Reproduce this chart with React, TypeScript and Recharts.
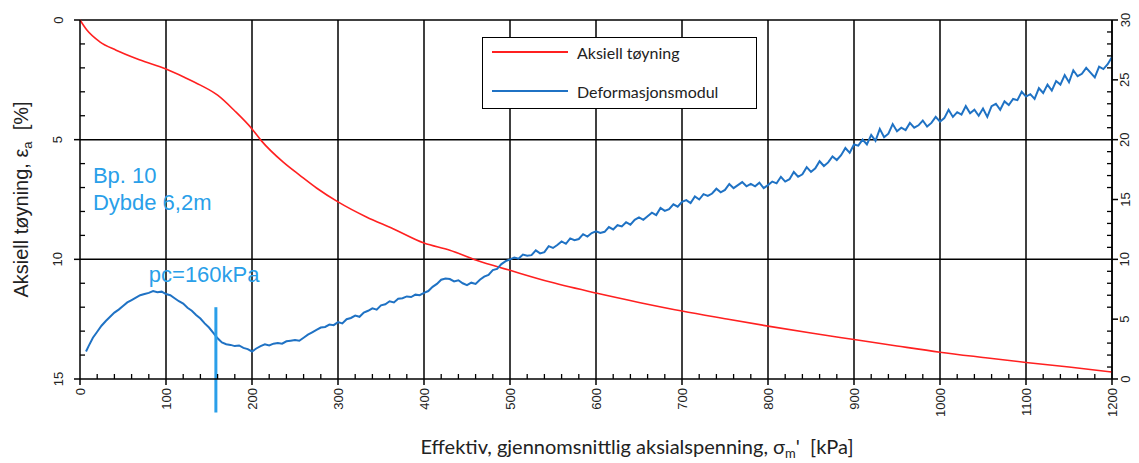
import React from 'react';
import { ComposedChart, Line, XAxis, YAxis, ReferenceLine, ReferenceDot, Legend } from 'recharts';

// axial strain (%) vs effective mean stress (kPa)
const strainStress = [0, 8, 23, 42, 70, 100, 120, 140, 160, 180, 200, 211, 236, 256, 275, 300, 333, 364, 400, 430, 461, 500, 547, 600, 650, 700, 750, 800, 850, 900, 950, 1000, 1050, 1100, 1150, 1200];
const strainValues = [0, 0.42, 0.91, 1.26, 1.67, 2.05, 2.37, 2.72, 3.14, 3.8, 4.55, 5.05, 5.93, 6.5, 7.02, 7.6, 8.23, 8.72, 9.32, 9.62, 10.04, 10.46, 10.95, 11.41, 11.8, 12.16, 12.48, 12.79, 13.08, 13.35, 13.62, 13.88, 14.1, 14.31, 14.5, 14.71];

// deformation modulus (MPa) vs stress (kPa)
const modulusPoints: [number, number][] = [
  [7, 2.3], [10, 2.75], [15, 3.45], [20, 3.95], [25, 4.45], [30, 4.85], [35, 5.2], [40, 5.55], [45, 5.8], [50, 6.1],
  [55, 6.4], [60, 6.6], [65, 6.8], [70, 7.0], [75, 7.1], [80, 7.2], [85, 7.35], [90, 7.25], [95, 7.3], [100, 7.1],
  [105, 7.0], [110, 6.75], [115, 6.5], [120, 6.3], [125, 5.95], [130, 5.7], [135, 5.35], [140, 5.05], [145, 4.65], [150, 4.3],
  [155, 3.85], [160, 3.4], [165, 3.05], [170, 2.9], [175, 2.85], [180, 2.75], [185, 2.8], [190, 2.6], [195, 2.5], [200, 2.3],
  [205, 2.55], [210, 2.75], [215, 2.9], [220, 2.8], [225, 2.95], [230, 3.0], [235, 2.95], [240, 3.15], [245, 3.2], [250, 3.25],
  [255, 3.2], [260, 3.45], [265, 3.7], [270, 3.9], [275, 4.1], [280, 4.3], [285, 4.35], [290, 4.55], [295, 4.5], [300, 4.75],
  [305, 4.65], [310, 5.0], [315, 5.1], [320, 5.3], [325, 5.2], [330, 5.55], [335, 5.7], [340, 5.9], [345, 5.8], [350, 6.15],
  [355, 6.25], [360, 6.5], [365, 6.4], [370, 6.7], [375, 6.75], [380, 6.9], [385, 6.85], [390, 7.05], [395, 7.0], [400, 7.2],
  [405, 7.35], [410, 7.7], [415, 7.95], [420, 8.3], [425, 8.4], [430, 8.35], [435, 8.15], [440, 8.25], [445, 8.0], [450, 7.85],
  [455, 8.05], [460, 7.95], [465, 8.3], [470, 8.55], [475, 8.7], [480, 9.1], [485, 9.2], [490, 9.6], [495, 9.85], [500, 10.0],
  [505, 10.15], [510, 10.05], [515, 10.4], [520, 10.3], [525, 10.35], [530, 10.75], [535, 10.5], [540, 10.6], [545, 11.1], [550, 10.95],
  [555, 11.2], [560, 11.5], [565, 11.3], [570, 11.75], [575, 11.6], [580, 11.7], [585, 12.1], [590, 11.9], [595, 12.2], [600, 12.35],
  [605, 12.2], [610, 12.3], [615, 12.7], [620, 12.5], [625, 12.85], [630, 12.75], [635, 13.1], [640, 12.9], [645, 13.3], [650, 13.5],
  [655, 13.3], [660, 13.6], [665, 13.9], [670, 13.7], [675, 14.3], [680, 14.05], [685, 14.2], [690, 14.6], [695, 14.4], [700, 14.8],
  [705, 14.95], [710, 14.7], [715, 15.25], [720, 15.0], [725, 15.45], [730, 15.3], [735, 15.5], [740, 15.9], [745, 15.6], [750, 15.8],
  [755, 16.3], [760, 15.95], [765, 16.2], [770, 16.45], [775, 16.1], [780, 16.3], [785, 16.1], [790, 16.4], [795, 15.95], [800, 16.2],
  [805, 16.5], [810, 16.35], [815, 16.9], [820, 16.5], [825, 16.7], [830, 17.3], [835, 16.9], [840, 17.1], [845, 17.7], [850, 17.3],
  [855, 17.6], [860, 18.2], [865, 17.8], [870, 18.1], [875, 18.6], [880, 18.3], [885, 18.7], [890, 19.3], [895, 18.9], [900, 19.6],
  [905, 19.5], [910, 20.0], [915, 19.6], [920, 20.4], [925, 19.9], [930, 20.9], [935, 20.2], [940, 20.5], [945, 21.3], [950, 20.7],
  [955, 21.0], [960, 20.8], [965, 21.4], [970, 21.0], [975, 21.2], [980, 21.6], [985, 21.1], [990, 21.4], [995, 21.9], [1000, 21.5],
  [1005, 21.8], [1010, 22.5], [1015, 21.9], [1020, 22.3], [1025, 22.1], [1030, 22.8], [1035, 22.2], [1040, 22.5], [1045, 22.0], [1050, 22.6],
  [1055, 21.9], [1060, 22.8], [1065, 23.0], [1070, 22.5], [1075, 23.2], [1080, 22.9], [1085, 23.4], [1090, 23.3], [1095, 24.0], [1100, 23.6],
  [1105, 23.8], [1110, 23.4], [1115, 24.3], [1120, 23.9], [1125, 24.6], [1130, 24.1], [1135, 24.9], [1140, 24.6], [1145, 25.4], [1150, 24.8],
  [1155, 25.8], [1160, 25.3], [1165, 25.5], [1170, 26.0], [1175, 25.6], [1180, 25.2], [1185, 26.1], [1190, 25.9], [1195, 26.3], [1200, 26.9],
];

const xMajorTicks = [0, 100, 200, 300, 400, 500, 600, 700, 800, 900, 1000, 1100, 1200];
const leftMajorTicks = [0, 5, 10, 15];
const rightMajorTicks = [0, 5, 10, 15, 20, 25, 30];
const legendItems = [
  { label: 'Aksiell tøyning', color: '#ff2020' },
  { label: 'Deformasjonsmodul', color: '#1f72c4' },
];
const preconsolidation = 158; // kPa, marked line
const sampleInfo = ['Bp. 10', 'Dybde 6,2m'];
const pcLabel = 'pc=160kPa';

const strainData = strainStress.map((s, i) => ({ s, strain: strainValues[i] }));
const modulusData = modulusPoints.map(([s, m]) => ({ s, modulus: m }));

const withMinor = (majors: number[], step: number) => {
  const out: number[] = [];
  for (let v = majors[0]; v <= majors[majors.length - 1] + 1e-9; v += step) out.push(Math.round(v * 100) / 100);
  return out;
};
const xTicks = withMinor(xMajorTicks, 20);
const leftTicks = withMinor(leftMajorTicks, 1);
const rightTicks = withMinor(rightMajorTicks, 1);

const AXIS = '#000';
const ANNOT = '#2a9fe9';
const tickText = { fontFamily: '"Liberation Sans", Arial, sans-serif', fontSize: 13, fill: '#222' };

const BottomTick = ({ x, y, payload }: any) => {
  const v = payload.value as number;
  if (v % 100 !== 0) return <line x1={x} x2={x} y1={y} y2={y - 5} stroke={AXIS} strokeWidth={1.3} />;
  return (
    <g>
      <line x1={x} x2={x} y1={y} y2={y + 6} stroke={AXIS} strokeWidth={1.5} />
      <text x={x} y={y + 9} transform={`rotate(-90 ${x} ${y + 9})`} textAnchor="end" dominantBaseline="central" {...tickText}>
        {v}
      </text>
    </g>
  );
};

const LeftTick = ({ x, y, payload }: any) => {
  const v = payload.value as number;
  if (v % 5 !== 0) return <line x1={x} x2={x + 5} y1={y} y2={y} stroke={AXIS} strokeWidth={1.3} />;
  return (
    <g>
      <line x1={x - 6} x2={x} y1={y} y2={y} stroke={AXIS} strokeWidth={1.5} />
      <text x={x - 22} y={y} transform={`rotate(-90 ${x - 22} ${y})`} textAnchor="middle" dominantBaseline="central" {...tickText}>
        {v}
      </text>
    </g>
  );
};

const RightTick = ({ x, y, payload }: any) => {
  const v = payload.value as number;
  if (v % 5 !== 0) return <line x1={x - 5} x2={x} y1={y} y2={y} stroke={AXIS} strokeWidth={1.3} />;
  return (
    <g>
      <line x1={x} x2={x + 6} y1={y} y2={y} stroke={AXIS} strokeWidth={1.5} />
      <text x={x + 13} y={y} transform={`rotate(-90 ${x + 13} ${y})`} textAnchor="middle" dominantBaseline="central" {...tickText}>
        {v}
      </text>
    </g>
  );
};

const LegendBox = () => (
  <div
    style={{
      width: 275,
      height: 72,
      boxSizing: 'border-box',
      border: '1.5px solid #000',
      background: '#fff',
      position: 'relative',
      fontFamily: 'Lato, "Open Sans", sans-serif',
      fontSize: 16,
      color: '#222',
    }}
  >
    {legendItems.map((it, i) => (
      <div key={it.label} style={{ position: 'absolute', left: 9, top: 4 + i * 39, height: 20, display: 'flex', alignItems: 'center' }}>
        <span style={{ display: 'inline-block', width: 76, height: 2.5, background: it.color }} />
        <span style={{ marginLeft: 9, whiteSpace: 'nowrap' }}>{it.label}</span>
      </div>
    ))}
  </div>
);

const annotText = (text: string) => (props: any) => {
  const vb = props.viewBox || {};
  return (
    <text x={vb.x} y={vb.y} fill={ANNOT} fontSize={22} fontFamily='"Liberation Sans", Arial, sans-serif'>
      {text}
    </text>
  );
};

const LeftTitle = (props: any) => {
  const vb = props.viewBox;
  const cx = vb.x + 28;
  const cy = vb.y + vb.height / 2;
  return (
    <text x={cx} y={cy} transform={`rotate(-90 ${cx} ${cy})`} textAnchor="middle" fill="#222" fontSize={20} fontFamily='"Liberation Sans", Arial, sans-serif'>
      Aksiell tøyning, ε<tspan dy={4} fontSize={13}>a</tspan>
      <tspan dy={-4}>{'\u00a0\u00a0[%]'}</tspan>
    </text>
  );
};

const BottomTitle = (props: any) => {
  const vb = props.viewBox;
  const cx = vb.x + 557;
  const cy = vb.y + 75;
  return (
    <text x={cx} y={cy} textAnchor="middle" fill="#222" fontSize={20} fontFamily='Lato, "Open Sans", sans-serif'>
      Effektiv, gjennomsnittlig aksialspenning, σ<tspan dy={4} fontSize={13}>m</tspan>
      <tspan dy={-4}>{"'\u00a0\u00a0[kPa]"}</tspan>
    </text>
  );
};

export default function App() {
  return (
    <div style={{ position: 'absolute', left: 0, top: 0, width: 1139, height: 463, background: '#fff' }}>
      <ComposedChart width={1139} height={463} margin={{ top: 20, right: 0, bottom: 0, left: 0 }}>
        <XAxis
          xAxisId={0}
          type="number"
          dataKey="s"
          domain={[0, 1200]}
          ticks={xTicks}
          interval={0}
          tick={<BottomTick />}
          tickLine={false}
          tickSize={0}
          tickMargin={0}
          height={84}
          axisLine={{ stroke: AXIS, strokeWidth: 1.5 }}
          label={{ content: BottomTitle }}
        />
        <YAxis
          yAxisId="left"
          type="number"
          domain={[0, 15]}
          reversed
          ticks={leftTicks}
          interval={0}
          tick={<LeftTick />}
          tickLine={false}
          tickSize={0}
          tickMargin={0}
          width={80}
          axisLine={{ stroke: AXIS, strokeWidth: 1.5 }}
          label={{ content: LeftTitle }}
        />
        <YAxis
          yAxisId="right"
          orientation="right"
          type="number"
          domain={[0, 30]}
          ticks={rightTicks}
          interval={0}
          tick={<RightTick />}
          tickLine={false}
          tickSize={0}
          tickMargin={0}
          width={27}
          axisLine={{ stroke: AXIS, strokeWidth: 1.5 }}
        />

        {xMajorTicks.slice(1).map((v) => (
          <ReferenceLine key={`vx${v}`} x={v} yAxisId="left" stroke={AXIS} strokeWidth={1.5} />
        ))}
        {leftMajorTicks.slice(0, -1).map((v) => (
          <ReferenceLine key={`hy${v}`} y={v} yAxisId="left" stroke={AXIS} strokeWidth={1.5} />
        ))}

        <Line
          data={strainData}
          yAxisId="left"
          dataKey="strain"
          name="Aksiell tøyning"
          type="monotone"
          stroke="#ff2020"
          strokeWidth={1.6}
          dot={false}
          isAnimationActive={false}
        />
        <Line
          data={modulusData}
          yAxisId="right"
          dataKey="modulus"
          name="Deformasjonsmodul"
          type="linear"
          stroke="#1f72c4"
          strokeWidth={2}
          dot={false}
          isAnimationActive={false}
        />

        <ReferenceLine
          yAxisId="left"
          segment={[{ x: preconsolidation, y: 12.0 }, { x: preconsolidation, y: 16.4 }]}
          stroke={ANNOT}
          strokeWidth={3}
          ifOverflow="visible"
        />
        <ReferenceDot x={15} y={6.82} yAxisId="left" r={0} fill="none" stroke="none" label={annotText(sampleInfo[0])} />
        <ReferenceDot x={15} y={7.95} yAxisId="left" r={0} fill="none" stroke="none" label={annotText(sampleInfo[1])} />
        <ReferenceDot x={80} y={10.96} yAxisId="left" r={0} fill="none" stroke="none" label={annotText(pcLabel)} />

        <Legend
          layout="vertical"
          verticalAlign="middle"
          align="center"
          content={<LegendBox />}
          wrapperStyle={{ left: 482, top: 37, width: 275, height: 72 }}
        />
      </ComposedChart>
    </div>
  );
}
